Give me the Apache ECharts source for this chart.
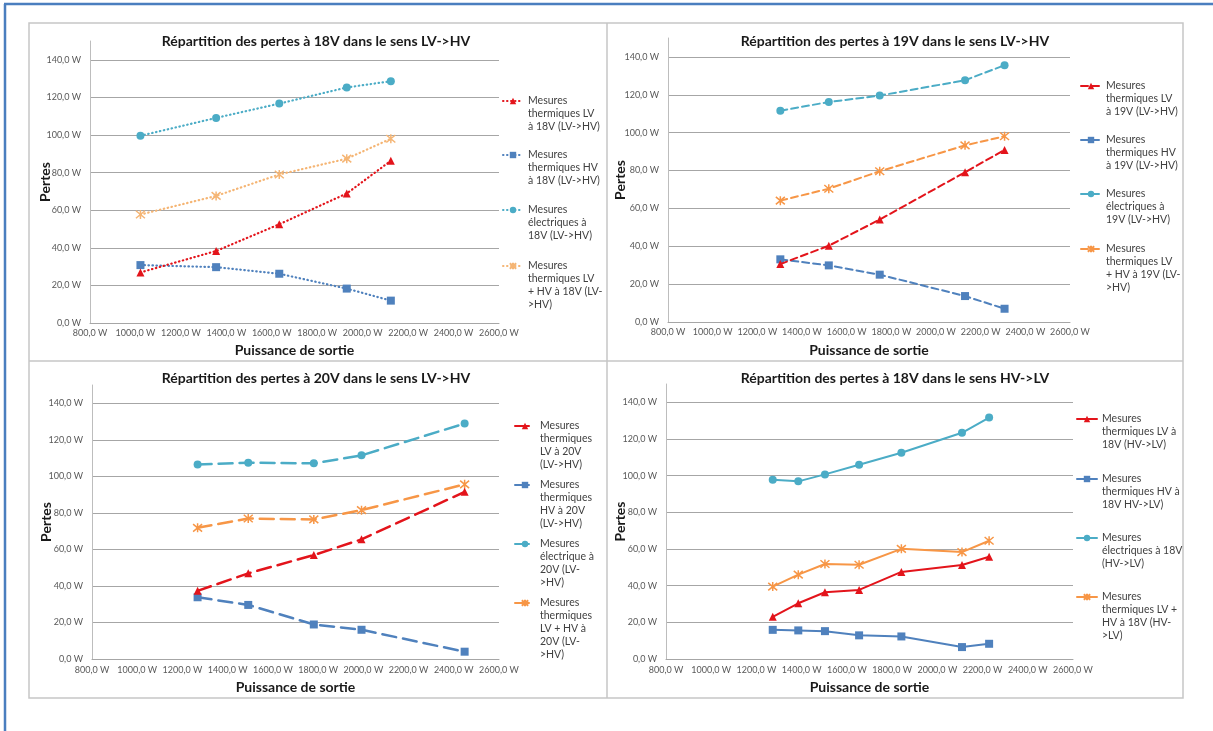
<!DOCTYPE html>
<html>
<head>
<meta charset="utf-8">
<script src="https://cdn.jsdelivr.net/npm/echarts@6/dist/echarts.min.js"></script>
<style>
  html, body { margin: 0; padding: 0; background: #ffffff; }
  #chart { width: 1213px; height: 731px; }
</style>
</head>
<body>
<div id="chart"></div>
<script>
// Répartition des pertes à 18V, LV->HV
const powers18LH = [1022, 1355, 1633, 1930, 2124];
const lv18LH = [26.9, 38.3, 52.5, 68.9, 86.3];
const hv18LH = [30.8, 29.7, 26.2, 18.3, 11.9];
const elec18LH = [99.6, 109.1, 116.7, 125.3, 128.6];
const tot18LH = [57.7, 67.6, 79.0, 87.4, 98.0];
const names18LH = [
  "Mesures\nthermiques LV\nà 18V (LV->HV)",
  "Mesures\nthermiques HV\nà 18V (LV->HV)",
  "Mesures\nélectriques à\n18V (LV->HV)",
  "Mesures\nthermiques LV\n+ HV à 18V (LV-\n>HV)"
];

// 19V, LV->HV
const powers19LH = [1303, 1520, 1748, 2130, 2307];
const lv19LH = [30.6, 40.3, 54.1, 79.1, 90.9];
const hv19LH = [33.1, 29.9, 25.0, 13.7, 7.0];
const elec19LH = [111.6, 116.2, 119.6, 127.7, 135.6];
const tot19LH = [64.1, 70.4, 79.6, 93.3, 98.1];
const names19LH = [
  "Mesures\nthermiques LV\nà 19V (LV->HV)",
  "Mesures\nthermiques HV\nà 19V (LV->HV)",
  "Mesures\nélectriques à\n19V (LV->HV)",
  "Mesures\nthermiques LV\n+ HV à 19V (LV-\n>HV)"
];

// 20V, LV->HV
const powers20LH = [1267, 1491, 1781, 1992, 2448];
const lv20LH = [37.3, 46.9, 56.9, 65.5, 91.5];
const hv20LH = [33.8, 29.6, 18.9, 16.0, 4.0];
const elec20LH = [106.5, 107.5, 107.1, 111.5, 128.9];
const tot20LH = [71.8, 76.9, 76.4, 81.5, 95.6];
const names20LH = [
  "Mesures\nthermiques\nLV à 20V\n(LV->HV)",
  "Mesures\nthermiques\nHV à 20V\n(LV->HV)",
  "Mesures\nélectrique à\n20V (LV-\n>HV)",
  "Mesures\nthermiques\nLV + HV à\n20V (LV-\n>HV)"
];

// 18V, HV->LV
const powers18HL = [1272, 1385, 1503, 1654, 1841, 2109, 2229];
const lv18HL = [23.0, 30.4, 36.4, 37.7, 47.5, 51.3, 55.8];
const hv18HL = [15.9, 15.6, 15.2, 12.9, 12.3, 6.5, 8.3];
const elec18HL = [97.8, 96.9, 100.7, 106.0, 112.5, 123.4, 131.7];
const tot18HL = [39.5, 46.0, 51.8, 51.4, 60.1, 58.3, 64.5];
const names18HL = [
  "Mesures\nthermiques LV à\n18V (HV->LV)",
  "Mesures\nthermiques HV à\n18V HV->LV)",
  "Mesures\nélectriques à 18V\n(HV->LV)",
  "Mesures\nthermiques LV +\nHV à 18V (HV-\n>LV)"
];

const titles = [
  "Répartition des pertes à 18V dans le sens LV->HV",
  "Répartition des pertes à 19V dans le sens LV->HV",
  "Répartition des pertes à 20V dans le sens LV->HV",
  "Répartition des pertes à 18V dans le sens HV->LV"
];
const yTicks = [0, 20, 40, 60, 80, 100, 120, 140];
const xTicks = [800, 1000, 1200, 1400, 1600, 1800, 2000, 2200, 2400, 2600];

const FONT = 'Lato, "Open Sans", sans-serif';
const RED = "#e3141b";
const BLUE = "#4f81bd";
const CYAN = "#4bacc6";
const ORANGE = "#f79646";
const STAR = "path://M0,0L10,10M10,0L0,10M5,-1L5,11";
const LINE_H = 13;

const panels = [
  {
    x: powers18LH, series: [lv18LH, hv18LH, elec18LH, tot18LH], names: names18LH,
    grid: { left: 90, top: 41, width: 409, height: 282 },
    titleX: 316, titleY: 34, yGap: 38, xGap: 20, xMargin: 6,
    legendLeft: 502, legendYs: [101, 155, 210, 266],
    dash: [0.5, 3.5], lw: 2.2, colors: [RED, BLUE, CYAN, "#f5b574"]
  },
  {
    x: powers19LH, series: [lv19LH, hv19LH, elec19LH, tot19LH], names: names19LH,
    grid: { left: 668, top: 38, width: 402, height: 284 },
    titleX: 895, titleY: 34, yGap: 41, xGap: 21, xMargin: 6,
    legendLeft: 1080, legendYs: [86, 140, 194, 249],
    dash: [7, 4], lw: 2, colors: [RED, BLUE, CYAN, ORANGE]
  },
  {
    x: powers20LH, series: [lv20LH, hv20LH, elec20LH, tot20LH], names: names20LH,
    grid: { left: 92, top: 385, width: 407, height: 274 },
    titleX: 316, titleY: 371, yGap: 39, xGap: 21, xMargin: 7,
    legendLeft: 514, legendYs: [426, 485, 544, 603],
    dash: [14, 7], lw: 2.5, colors: [RED, BLUE, CYAN, ORANGE]
  },
  {
    x: powers18HL, series: [lv18HL, hv18HL, elec18HL, tot18HL], names: names18HL,
    grid: { left: 666, top: 384, width: 407, height: 275 },
    titleX: 895, titleY: 371, yGap: 39, xGap: 21, xMargin: 7,
    legendLeft: 1076, legendYs: [419, 479, 538, 597],
    dash: "solid", lw: 2, colors: [RED, BLUE, CYAN, ORANGE]
  }
];

const symbols = ["triangle", "rect", "circle", STAR];
const symbolSizes = [8, 8, 8, 9];

function fmtW(v) {
  return v.toFixed(1).replace(".", ",") + " W";
}

const option = {
  animation: false,
  backgroundColor: "#ffffff",
  title: [],
  grid: [],
  xAxis: [],
  yAxis: [],
  legend: [],
  series: [],
  graphic: []
};

panels.forEach((p, i) => {
  option.title.push({
    text: titles[i],
    left: p.titleX,
    top: p.titleY,
    textAlign: "center",
    padding: 0,
    textStyle: { fontFamily: FONT, fontSize: 14, fontWeight: "bold", color: "#1a1a1a" }
  });
  option.grid.push(Object.assign({ containLabel: false }, p.grid));
  option.xAxis.push({
    type: "value",
    gridIndex: i,
    min: xTicks[0],
    max: xTicks[xTicks.length - 1],
    interval: 200,
    name: "Puissance de sortie",
    nameLocation: "middle",
    nameGap: p.xGap,
    nameMoveOverlap: false,
    nameTextStyle: { fontFamily: FONT, fontSize: 14, fontWeight: "bold", color: "#1a1a1a" },
    axisLine: { show: true, lineStyle: { color: "#a6a6a6", width: 1 } },
    axisTick: { show: false },
    splitLine: { show: false },
    axisLabel: {
      margin: p.xMargin,
      fontFamily: FONT, fontSize: 9, color: "#595959",
      formatter: fmtW
    }
  });
  option.yAxis.push({
    type: "value",
    gridIndex: i,
    min: 0,
    max: 150,
    interval: 20,
    name: "Pertes",
    nameLocation: "middle",
    nameGap: p.yGap,
    nameMoveOverlap: false,
    nameTextStyle: { fontFamily: FONT, fontSize: 14, fontWeight: "bold", color: "#1a1a1a" },
    axisLine: { show: true, lineStyle: { color: "#bdbdbd", width: 1 } },
    axisTick: { show: false },
    splitLine: { show: true, showMaxLine: false, lineStyle: { color: "#a6a6a6", width: 1 } },
    axisLabel: {
      margin: 9, showMaxLabel: false,
      fontFamily: FONT, fontSize: 9, color: "#595959",
      formatter: (v) => (yTicks.indexOf(v) >= 0 ? fmtW(v) : "")
    }
  });
  p.series.forEach((vals, k) => {
    const color = p.colors[k];
    option.series.push({
      type: "line",
      name: p.names[k],
      xAxisIndex: i,
      yAxisIndex: i,
      data: p.x.map((xv, j) => [xv, vals[j]]),
      symbol: symbols[k],
      symbolSize: symbolSizes[k],
      lineStyle: { color: color, width: p.lw, type: p.dash, cap: "round" },
      itemStyle: {
        color: k === 3 ? "rgba(0,0,0,0)" : color,
        borderColor: color,
        borderWidth: k === 3 ? 1.5 : 0
      },
      z: 10 - k
    });
    // blank leading lines keep the icon level with the first text line
    const nLines = p.names[k].split("\n").length;
    option.legend.push({
      data: [p.names[k]],
      left: p.legendLeft,
      top: p.legendYs[k] - (2 * nLines - 1) * LINE_H / 2,
      padding: 0,
      itemWidth: 20,
      itemHeight: 8,
      selectedMode: false,
      formatter: (name) => "\n".repeat(nLines - 1) + name,
      textStyle: {
        fontFamily: FONT, fontSize: 10.5, color: "#404040",
        lineHeight: LINE_H
      }
    });
  });
});

// panel frames and page border
const frame = { stroke: "#c6c6c6", lineWidth: 1.5 };
option.graphic = [
  { type: "rect", shape: { x: 29, y: 23, width: 1154, height: 675 }, style: { fill: null, stroke: frame.stroke, lineWidth: frame.lineWidth }, silent: true },
  { type: "line", shape: { x1: 607, y1: 23, x2: 607, y2: 698 }, style: frame, silent: true },
  { type: "line", shape: { x1: 29, y1: 361, x2: 1183, y2: 361 }, style: frame, silent: true },
  { type: "line", shape: { x1: 4, y1: 4, x2: 1213, y2: 4 }, style: { stroke: "#4a7ebf", lineWidth: 2.5 }, silent: true },
  { type: "line", shape: { x1: 5, y1: 4, x2: 5, y2: 731 }, style: { stroke: "#4a7ebf", lineWidth: 2.5 }, silent: true }
];

const chart = echarts.init(document.getElementById("chart"), null, { renderer: "canvas" });
chart.setOption(option);
</script>
</body>
</html>
